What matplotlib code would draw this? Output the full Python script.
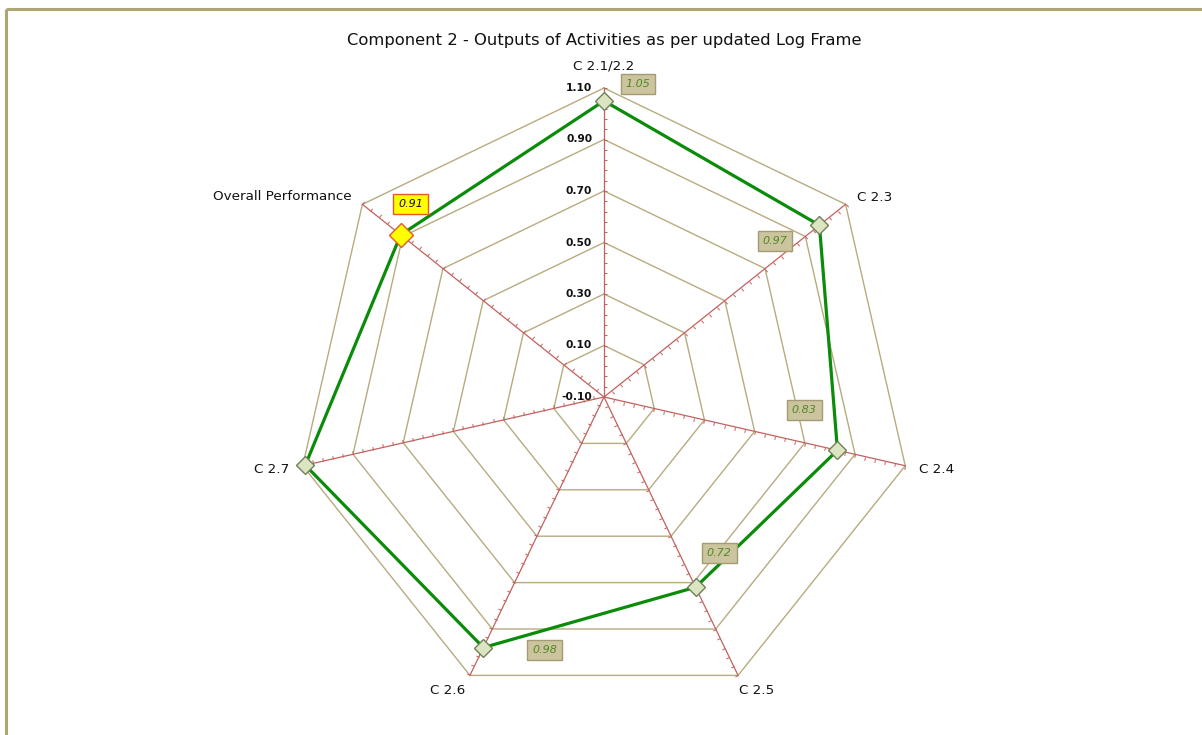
"""
Radar chart: Component 2 outputs of activities against the updated log frame.
"""

import numpy as np
import matplotlib
matplotlib.use('Agg')
import matplotlib.pyplot as plt
from matplotlib.markers import MarkerStyle
from matplotlib.path import Path
from matplotlib.transforms import Affine2D
from matplotlib.lines import Line2D

# Data
categories = ['C 2.1/2.2', 'C 2.3', 'C 2.4', 'C 2.5', 'C 2.6', 'C 2.7', 'Overall Performance']
values = [1.05, 0.97, 0.83, 0.72, 0.98, 1.09, 0.91]
value_labels = ['1.05', '0.97', '0.83', '0.72', '0.98', None, '0.91']
ring_levels = [-0.10, 0.10, 0.30, 0.50, 0.70, 0.90, 1.10]
r_min, r_max = -0.10, 1.10

# Styling
green = '#0a8c0a'
grid_col = '#b7ab80'
spoke_col = '#c2625e'
box_fill = '#cbc49e'
box_edge = '#a39c72'
label_green = '#4f8a22'
frame_col = '#aea674'

plt.rcParams['font.family'] = ['DejaVu Sans']

fig = plt.figure(figsize=(12.02, 7.35), dpi=100)
fig.patch.set_facecolor('white')

# outer frame (only left and top edges fall inside the image)
fx, fy = 6 / 1202, 1 - 8.5 / 735
fig.add_artist(Line2D([fx, fx], [0, fy], transform=fig.transFigure,
                      color=frame_col, lw=2.2, solid_capstyle='butt'))
fig.add_artist(Line2D([fx, 1], [fy, fy], transform=fig.transFigure,
                      color=frame_col, lw=2.2, solid_capstyle='butt'))

# polar axes centred at (604, 397) px with radius 309 px
cx, cy, R = 604, 397, 309
ax = fig.add_axes([(cx - R) / 1202, (735 - cy - R) / 735, 2 * R / 1202, 2 * R / 735],
                  projection='polar')
ax.set_theta_offset(np.pi / 2)
ax.set_theta_direction(-1)
ax.set_ylim(r_min, r_max)
ax.grid(False)
ax.set_xticks([])
ax.set_yticks([])
ax.spines['polar'].set_visible(False)
ax.patch.set_visible(False)

n = len(categories)
theta = np.arange(n) * 2 * np.pi / n
theta_c = np.append(theta, theta[0])

# polygon grid rings
for lv in ring_levels[1:]:
    ax.plot(theta_c, [lv] * (n + 1), color=grid_col, lw=1.0, zorder=1, clip_on=False)

# spokes with minor tick marks on the clockwise side
tick_r = r_min + 0.04 * np.arange(1, 31)
tick_path = Path([(0, 0), (1, 0)])
for i, t in enumerate(theta):
    ax.plot([t, t], [r_min, r_max], color=spoke_col, lw=0.9, zorder=2, clip_on=False)
    ang = -i * 360 / n
    mk = MarkerStyle(tick_path, transform=Affine2D().rotate_deg(ang))
    ax.plot([t] * len(tick_r), tick_r, ls='none', marker=mk, markersize=5,
            markeredgecolor=spoke_col, markeredgewidth=0.7, zorder=2, clip_on=False)

# ring value labels along the top spoke
for lv in ring_levels:
    ax.annotate(f'{lv:.2f}', xy=(0, lv), xytext=(-8.5, 0), textcoords='offset points',
                ha='right', va='center', fontsize=7.7, fontweight='bold',
                color='#111111', annotation_clip=False, zorder=4)

# data polygon
vals_c = values + values[:1]
ax.plot(theta_c, vals_c, color=green, lw=2.3, zorder=5, clip_on=False)
for i in range(n):
    last = i == n - 1
    ax.plot(theta[i], values[i], marker='D',
            markersize=12 if last else 9.5,
            markerfacecolor='#ffff00' if last else '#dbe5c2',
            markeredgecolor='#e8582a' if last else '#71805a',
            markeredgewidth=1.0, zorder=6, clip_on=False)

# value boxes
label_offsets = [(24.5, 12), (-32, -11.5), (-24, 29), (17, 25), (44, -1.5), None, (7, 22)]
for i in range(n):
    if value_labels[i] is None:
        continue
    last = i == n - 1
    ax.annotate(value_labels[i], xy=(theta[i], values[i]), xytext=label_offsets[i],
                textcoords='offset points', ha='center', va='center',
                fontsize=8, style='italic',
                color='#111111' if last else label_green,
                bbox=dict(boxstyle='square,pad=0.45',
                          facecolor='#ffff00' if last else box_fill,
                          edgecolor='#e8582a' if last else box_edge, lw=1.0),
                annotation_clip=False, zorder=7)

# category labels around the outside
cat_offsets = [(0, 15.5, 'center'), (8.5, 5, 'left'), (10, -2.5, 'left'),
               (13.5, -11, 'center'), (-16, -11, 'center'), (-9.5, -2.5, 'right'),
               (-8, 6, 'right')]
for i, name in enumerate(categories):
    dx, dy, ha = cat_offsets[i]
    ax.annotate(name, xy=(theta[i], r_max), xytext=(dx, dy), textcoords='offset points',
                ha=ha, va='center', fontsize=9.7, color='#111111',
                annotation_clip=False)

fig.text(cx / 1202, 1 - 40 / 735, 'Component 2 - Outputs of Activities as per updated Log Frame',
         ha='center', va='center', fontsize=11.8, color='#111111')

fig.savefig('out.png', dpi=100, facecolor='white')
